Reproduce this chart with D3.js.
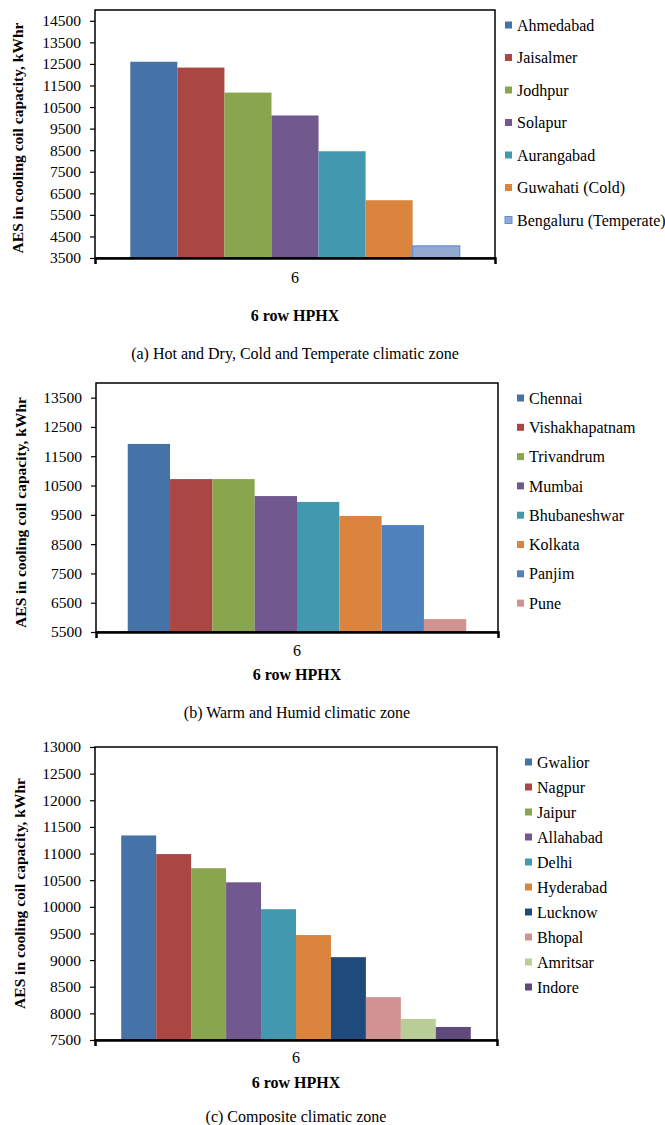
<!DOCTYPE html>
<html>
<head>
<meta charset="utf-8">
<script src="https://cdn.jsdelivr.net/npm/d3@7"></script>
<style>
  body { margin: 0; background: #fff; }
</style>
</head>
<body>
<div id="chart"></div>
<script>
// (a) Hot and Dry, Cold and Temperate
const citiesA = ["Ahmedabad", "Jaisalmer", "Jodhpur", "Solapur", "Aurangabad", "Guwahati (Cold)", "Bengaluru (Temperate)"];
const valuesA = [12600, 12330, 11170, 10110, 8450, 6180, 4060];
const ticksA = [3500, 4500, 5500, 6500, 7500, 8500, 9500, 10500, 11500, 12500, 13500, 14500];

// (b) Warm and Humid
const citiesB = ["Chennai", "Vishakhapatnam", "Trivandrum", "Mumbai", "Bhubaneshwar", "Kolkata", "Panjim", "Pune"];
const valuesB = [11920, 10720, 10720, 10140, 9940, 9460, 9150, 5940];
const ticksB = [5500, 6500, 7500, 8500, 9500, 10500, 11500, 12500, 13500];

// (c) Composite
const citiesC = ["Gwalior", "Nagpur", "Jaipur", "Allahabad", "Delhi", "Hyderabad", "Lucknow", "Bhopal", "Amritsar", "Indore"];
const valuesC = [11340, 10990, 10725, 10460, 9955, 9470, 9055, 8305, 7895, 7745];
const ticksC = [7500, 8000, 8500, 9000, 9500, 10000, 10500, 11000, 11500, 12000, 12500, 13000];

const category = ["6"];

// excel 2007 style colours
const base = ["#4572A7", "#AA4643", "#89A54E", "#71588F", "#4198AF", "#DB843D"];
const coloursA = base.concat(["#93A9D0"]);
const coloursB = base.concat(["#4F81BD", "#D19392"]);
const coloursC = base.concat(["#1F4A7C", "#D19392", "#B9CE96", "#5F4A7B"]);

const font = "Liberation Serif";

const svg = d3.select("#chart").append("svg")
  .attr("width", 665)
  .attr("height", 1125)
  .style("font-family", font);

const drawPanel = (p) => {
  const g = svg.append("g");

  const y = d3.scaleLinear().domain(p.domain).range([p.bottom, p.top]);
  const x0 = d3.scaleBand().domain(category).range([p.left, p.right]);
  // gap width 150% -> 0.75 of a bar on each side
  const x1 = d3.scaleBand().domain(p.cities).range([p.left, p.right])
    .paddingInner(0).paddingOuter(0.75);

  // bars
  g.selectAll("rect.bar")
    .data(p.values)
    .enter()
    .append("rect")
    .attr("class", "bar")
    .attr("x", (d, i) => x1(p.cities[i]))
    .attr("width", x1.bandwidth())
    .attr("y", (d) => y(d))
    .attr("height", (d) => p.bottom - y(d))
    .style("fill", (d, i) => p.colours[i])
    .style("stroke", (d, i) => (p.outlined && i === p.values.length - 1 ? "#5B8FD6" : "none"))
    .style("stroke-width", 1.2);

  // plot frame
  g.append("rect")
    .attr("x", p.left)
    .attr("y", p.top)
    .attr("width", p.right - p.left)
    .attr("height", p.bottom - p.top)
    .style("fill", "none")
    .style("stroke", "#000")
    .style("stroke-width", 1.5);

  // y axis
  const yAxis = g.append("g")
    .attr("transform", `translate(${p.left},0)`)
    .call(d3.axisLeft(y).tickValues(p.ticks).tickSize(5).tickPadding(9).tickFormat(d3.format("d")))
    .attr("font-family", null)
    .attr("font-size", null);
  yAxis.select(".domain").remove();
  yAxis.selectAll("line").style("stroke", "#000").style("stroke-width", 1.2);
  yAxis.selectAll("text")
    .style("font-size", "15.5px")
    .style("font-family", font);

  // x axis
  const xAxis = g.append("g")
    .attr("transform", `translate(0,${p.bottom})`)
    .call(d3.axisBottom(x0).tickSize(0).tickSizeOuter(6).tickPadding(p.tickPad))
    .attr("font-family", null)
    .attr("font-size", null);
  xAxis.select(".domain").style("stroke", "#000").style("stroke-width", 2.5);
  xAxis.selectAll("text")
    .style("font-size", "16px")
    .style("font-family", font);

  // axis titles
  g.append("text")
    .attr("text-anchor", "middle")
    .attr("transform", `translate(${p.yTitleX}, ${(p.top + p.bottom) / 2 + p.yTitleShift}) rotate(-90)`)
    .style("font-family", font)
    .style("font-size", "15.5px")
    .style("font-weight", "bold")
    .text("AES in cooling coil capacity, kWhr");

  g.append("text")
    .attr("text-anchor", "middle")
    .attr("x", x0("6") + x0.bandwidth() / 2)
    .attr("y", p.xTitleY)
    .style("font-family", font)
    .style("font-size", "16px")
    .style("font-weight", "bold")
    .text("6 row HPHX");

  g.append("text")
    .attr("text-anchor", "middle")
    .attr("x", x0("6") + x0.bandwidth() / 2)
    .attr("y", p.captionY)
    .style("font-family", font)
    .style("font-size", "16px")
    .text(p.caption);

  // legend
  const legend = g.selectAll("g.legend")
    .data(p.cities)
    .enter()
    .append("g")
    .attr("class", "legend")
    .attr("transform", (d, i) => `translate(${p.legendX}, ${p.legendY + i * p.legendStep})`);

  legend.append("rect")
    .attr("x", 0)
    .attr("y", -3.5)
    .attr("width", 7)
    .attr("height", 7)
    .style("fill", (d, i) => p.colours[i])
    .style("stroke", (d, i) => (p.outlined && i === p.cities.length - 1 ? "#5B8FD6" : "none"));

  legend.append("text")
    .attr("x", 12)
    .attr("dy", "0.35em")
    .style("font-family", font)
    .style("font-size", "16px")
    .text((d) => d);
};

drawPanel({
  cities: citiesA, values: valuesA, ticks: ticksA, colours: coloursA, outlined: true,
  domain: [3500, 15000], left: 95, right: 495, top: 10, bottom: 258,
  tickPad: 14, yTitleX: 23, yTitleShift: 4, xTitleY: 321, captionY: 359,
  legendX: 505, legendY: 25, legendStep: 32.5,
  caption: "(a) Hot and Dry, Cold and Temperate climatic zone"
});

drawPanel({
  cities: citiesB, values: valuesB, ticks: ticksB, colours: coloursB, outlined: false,
  domain: [5500, 14000], left: 96, right: 498, top: 383, bottom: 632,
  tickPad: 13, yTitleX: 26, yTitleShift: 5, xTitleY: 680, captionY: 718,
  legendX: 517, legendY: 398, legendStep: 29.3,
  caption: "(b) Warm and Humid climatic zone"
});

drawPanel({
  cities: citiesC, values: valuesC, ticks: ticksC, colours: coloursC, outlined: false,
  domain: [7500, 13000], left: 95, right: 497, top: 747, bottom: 1040,
  tickPad: 12, yTitleX: 25, yTitleShift: 0, xTitleY: 1088, captionY: 1122,
  legendX: 525, legendY: 762, legendStep: 25,
  caption: "(c) Composite climatic zone"
});
</script>
</body>
</html>
